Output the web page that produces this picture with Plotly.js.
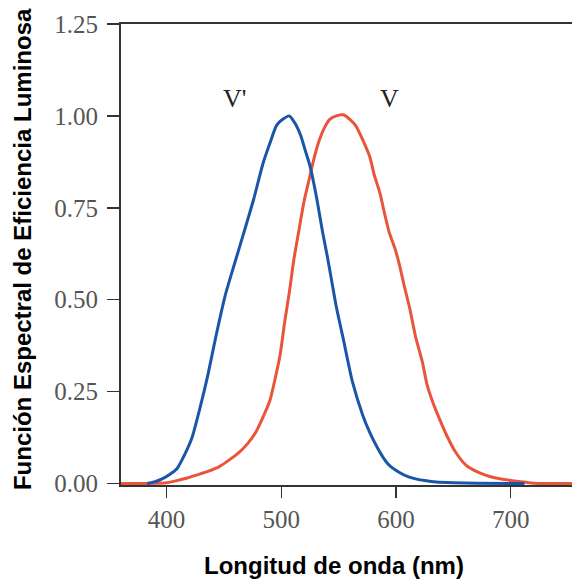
<!DOCTYPE html>
<html>
<head>
<meta charset="utf-8">
<script src="https://cdn.plot.ly/plotly-3.0.1.min.js"></script>
<style>html,body{margin:0;padding:0;background:#fff;}#chart{width:572px;height:582px;}</style>
</head>
<body>
<div id="chart"></div>
<script>
// Photopic V (orange)
const vX = [360, 380, 400, 409, 418, 426, 436, 446, 455, 464, 471, 478, 484, 490, 495, 499, 503, 507, 511, 516, 520, 525, 529, 533.5, 538, 542, 548, 554, 560, 565, 571, 577, 581, 586, 590, 594, 599, 603, 607, 612, 617, 623, 627, 632, 638, 644, 652, 661, 670, 678, 687, 696, 705, 712, 720, 755];
const vY = [0, 0, 0.002, 0.008, 0.015, 0.023, 0.033, 0.046, 0.065, 0.087, 0.11, 0.141, 0.18, 0.225, 0.29, 0.35, 0.44, 0.52, 0.61, 0.70, 0.77, 0.837, 0.89, 0.937, 0.97, 0.99, 1.0, 1.003, 0.99, 0.973, 0.935, 0.89, 0.84, 0.79, 0.735, 0.684, 0.64, 0.595, 0.54, 0.476, 0.40, 0.33, 0.27, 0.222, 0.175, 0.132, 0.085, 0.05, 0.033, 0.023, 0.015, 0.01, 0.006, 0.004, 0.001, 0];
// Scotopic V' (blue)
const vpX = [383, 390, 397, 403, 409, 416, 422, 429, 436, 443, 451, 458, 464, 470, 476, 484, 490, 496, 501, 507, 512, 517, 521, 525, 531, 536, 540, 544, 548, 554, 562, 571, 577, 583, 589, 594, 603, 611, 618, 625, 635, 650, 670, 712];
const vpY = [0, 0.005, 0.014, 0.025, 0.04, 0.08, 0.123, 0.204, 0.295, 0.40, 0.51, 0.585, 0.647, 0.71, 0.774, 0.87, 0.925, 0.975, 0.99, 1.0, 0.98, 0.946, 0.905, 0.864, 0.774, 0.684, 0.62, 0.55, 0.48, 0.394, 0.277, 0.186, 0.14, 0.102, 0.07, 0.05, 0.03, 0.018, 0.012, 0.008, 0.004, 0.002, 0.001, 0];
const xTicks = [400, 500, 600, 700];
const yTicks = [0, 0.25, 0.5, 0.75, 1.0, 1.25];
const labels = [{text: "V'", x: 459, y: 1.048}, {text: "V", x: 594, y: 1.048}];
const xTitle = 'Longitud de onda (nm)';
const yTitle = 'Función Espectral de Eficiencia Luminosa';

const traces = [
  {x: vX, y: vY, type: 'scatter', mode: 'lines', name: 'V', line: {color: '#e8553a', width: 3, shape: 'spline', smoothing: 0.6}},
  {x: vpX, y: vpY, type: 'scatter', mode: 'lines', name: "V'", line: {color: '#1a56a8', width: 3, shape: 'spline', smoothing: 0.6}}
];

const titleFont = {family: 'Liberation Sans, Arial, sans-serif', size: 24, color: '#000', weight: 'bold'};
const annots = labels.map(l => ({
  text: l.text, x: l.x, y: l.y, xref: 'x', yref: 'y', showarrow: false,
  font: {family: 'Liberation Serif, Times New Roman, serif', size: 26, color: '#222'}
}));
annots.push({text: xTitle, xref: 'paper', yref: 'paper', x: 0.472, y: -0.175, xanchor: 'center', yanchor: 'middle', showarrow: false, font: titleFont});
annots.push({text: yTitle, xref: 'paper', yref: 'paper', x: -0.217, y: 0.512, xanchor: 'center', yanchor: 'middle', textangle: -90, showarrow: false, font: titleFont});

const layout = {
  width: 572, height: 582,
  margin: {l: 121, r: 0, t: 24, b: 97, pad: 0},
  paper_bgcolor: '#fff', plot_bgcolor: '#fff',
  showlegend: false,
  xaxis: {
    range: [360.3, 753.4], tickvals: xTicks, ticktext: xTicks.map(String),
    ticks: 'outside', ticklen: 11, tickwidth: 1.5, tickcolor: '#333',
    showline: true, linecolor: '#333', linewidth: 2, mirror: true,
    showgrid: false, zeroline: false,
    tickfont: {family: 'Liberation Serif, Times New Roman, serif', size: 25, color: '#555'}
  },
  yaxis: {
    range: [-0.004, 1.25], tickvals: yTicks, ticktext: yTicks.map(v => v.toFixed(2)),
    ticks: 'outside', ticklen: 12, tickwidth: 1.5, tickcolor: '#333',
    showline: true, linecolor: '#333', linewidth: 2,
    showgrid: false, zeroline: false,
    ticklabelstandoff: 4,
    tickfont: {family: 'Liberation Serif, Times New Roman, serif', size: 25, color: '#555'}
  },
  annotations: annots
};

Plotly.newPlot('chart', traces, layout, {displayModeBar: false, staticPlot: true});
</script>
</body>
</html>
